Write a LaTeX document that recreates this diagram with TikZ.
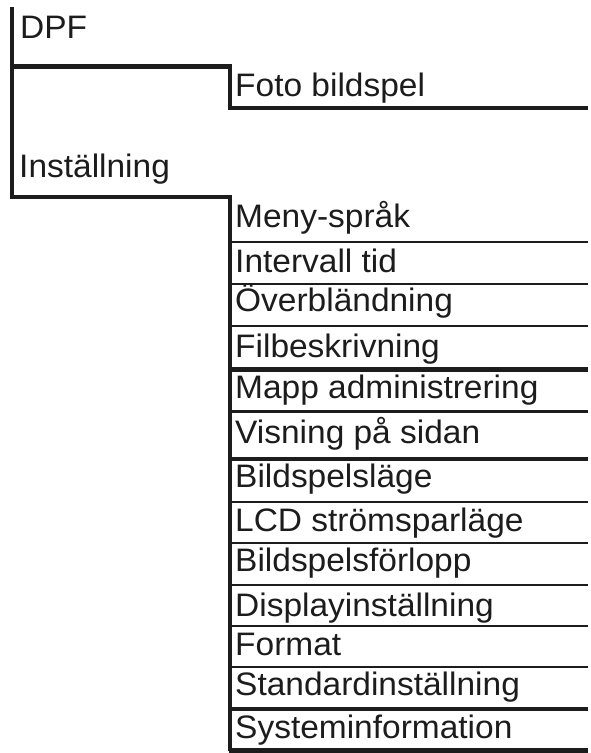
\documentclass[tikz,border=0pt]{standalone}
\usepackage{fontspec}
\setmainfont[FakeStretch=1.03]{Liberation Sans}
\definecolor{ink}{HTML}{1C1C1C}
\begin{document}
\begin{tikzpicture}[x=1pt,y=-1pt,
  lbl/.style={anchor=base west,inner sep=0pt,text=ink,font=\fontsize{32.5}{36}\selectfont},
  thk/.style={draw=ink,line width=4.5pt,line cap=butt},
  thn/.style={draw=ink,line width=2.6pt,line cap=butt},
  mid/.style={draw=ink,line width=3.2pt,line cap=butt}]
\useasboundingbox[fill=white] (0,0) rectangle (590,753);
% top level labels
\node[lbl] (dpf) at (20,38) {DPF};
\node[lbl] (foto) at (235,96) {Foto bildspel};
\node[lbl] (inst) at (19,177) {Inställning};
% submenu labels
\node[lbl] (s1) at (235,227) {Meny-språk};
\node[lbl] (s2) at (235,272) {Intervall tid};
\node[lbl] (s3) at (235,311) {Överbländning};
\node[lbl] (s4) at (235,357) {Filbeskrivning};
\node[lbl] (s5) at (235,398) {Mapp administrering};
\node[lbl] (s6) at (235,443) {Visning på sidan};
\node[lbl] (s7) at (235,487) {Bildspelsläge};
\node[lbl] (s8) at (235,531) {LCD strömsparläge};
\node[lbl] (s9) at (235,571) {Bildspelsförlopp};
\node[lbl] (s10) at (235,616) {Displayinställning};
\node[lbl] (s11) at (235,655) {Format};
\node[lbl] (s12) at (235,695) {Standardinställning};
\node[lbl] (s13) at (235,738) {Systeminformation};
% tree coordinates
\coordinate (rtop) at (12,7);
\coordinate (rb1) at (12,66.5);
\coordinate (rb2) at (12,197);
\coordinate (fk) at (230,66.5);
\coordinate (fb) at (230,108);
\coordinate (fe) at (588,108);
\coordinate (ik) at (230,197);
\coordinate (ib) at (230,751);
% root spine
\draw[mid] (rtop) -- ([yshift=1.5pt]rb2);
% DPF -> Foto bildspel
\draw[thk] ([xshift=-1.6pt]rb1) -- (fk) -- (fb);
\draw[thk] ([xshift=-1.6pt]fb) -- (fe);
% Inställning -> submenu
\draw[mid] ([xshift=-1.6pt]rb2) -- (ik) -- (ib);
% row separators
\foreach \yy/\st in {242/thn,284/thn,326/thn,369.5/thk,411.5/thn,459/thk,502/thn,543/thn,585/thn,626/thn,667/thn,709/thk,750.5/thk}{
  \draw[\st] (228.5,\yy) -- (588,\yy);
}
\end{tikzpicture}
\end{document}
